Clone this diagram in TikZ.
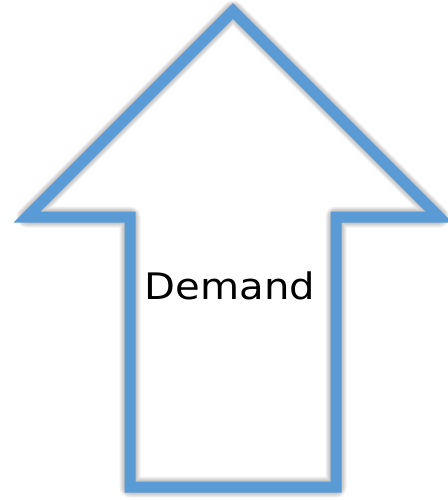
\documentclass[tikz,border=0pt]{standalone}
\usepackage{fontspec}
\newfontfamily\dejavu{DejaVu Sans}
\definecolor{arrowblue}{HTML}{5B9BD5}
\tikzset{
  outline/.style={draw=arrowblue, line width=11pt, line join=miter, miter limit=20},
  shadowline/.style={draw=black, line join=round, opacity=0.05},
  label/.style={font=\dejavu\fontsize{36.5}{40}\selectfont, text=black, inner sep=0pt, anchor=base, xscale=1.1}
}
\begin{document}
\begin{tikzpicture}[x=1pt,y=-1pt]
\useasboundingbox (0,0) rectangle (447,500);
\coordinate (apex) at (233,11);
\coordinate (hl) at (27,217);
\coordinate (sl) at (130,217);
\coordinate (bl) at (130,487);
\coordinate (br) at (336,487);
\coordinate (sr) at (336,217);
\coordinate (hr) at (439,217);
\def\arrowpath{(apex) -- (hl) -- (sl) -- (bl) -- (br) -- (sr) -- (hr) -- cycle}
\begin{scope}[shift={(3,5)}]
\foreach \w in {21,19,17,15,13,11,9} {
  \draw[shadowline, line width=\w pt] \arrowpath;
}
\end{scope}
\draw[outline] \arrowpath;
\node[label] (demand) at (230,299.3) {Demand};
\end{tikzpicture}
\end{document}
